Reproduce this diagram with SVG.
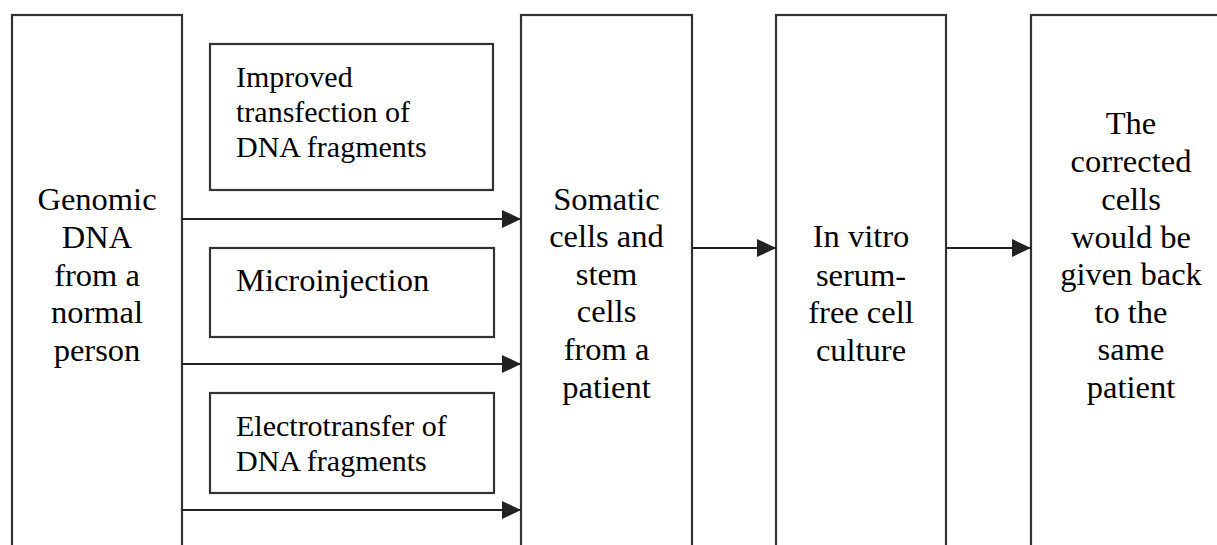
<svg xmlns="http://www.w3.org/2000/svg" width="1217" height="545" viewBox="0 0 1217 545">
<style>
.box{fill:#fff;stroke:#333;stroke-width:2.2}
.conn{stroke:#222;stroke-width:2.2;fill:none}
.t{font-family:"Liberation Serif","Times New Roman",serif;font-size:30px;fill:#000}
.p{font-size:32.5px}
.c{text-anchor:middle}
</style>
<defs>
<marker id="ah" markerUnits="userSpaceOnUse" markerWidth="20" markerHeight="20" refX="19" refY="9" orient="auto">
<path d="M0,0 L19,9 L0,18 Z" fill="#222"/>
</marker>
</defs>
<rect width="1217" height="545" fill="#fff"/>
<g id="genomic">
<rect class="box" x="12" y="15" width="170" height="560"/>
<text class="t p c" x="97"><tspan x="97" y="210">Genomic</tspan><tspan x="97" y="248">DNA</tspan><tspan x="97" y="286">from a</tspan><tspan x="97" y="323">normal</tspan><tspan x="97" y="361">person</tspan></text>
</g>
<g id="transfection">
<rect class="box" x="210" y="44" width="283" height="146"/>
<text class="t" x="236"><tspan x="236" y="87">Improved</tspan><tspan x="236" y="122">transfection of</tspan><tspan x="236" y="157">DNA fragments</tspan></text>
</g>
<g id="microinjection">
<rect class="box" x="210" y="248" width="284" height="89"/>
<text class="t p" x="236" y="291">Microinjection</text>
</g>
<g id="electrotransfer">
<rect class="box" x="210" y="393" width="284" height="100"/>
<text class="t" x="236"><tspan x="236" y="436">Electrotransfer of</tspan><tspan x="236" y="471">DNA fragments</tspan></text>
</g>
<g id="somatic">
<rect class="box" x="521" y="15" width="171" height="560"/>
<text class="t p c"><tspan x="606.5" y="210">Somatic</tspan><tspan x="606.5" y="247">cells and</tspan><tspan x="606.5" y="285">stem</tspan><tspan x="606.5" y="322">cells</tspan><tspan x="606.5" y="360">from a</tspan><tspan x="606.5" y="398">patient</tspan></text>
</g>
<g id="culture">
<rect class="box" x="776" y="15" width="170" height="560"/>
<text class="t p c"><tspan x="861" y="247">In vitro</tspan><tspan x="861" y="286">serum-</tspan><tspan x="861" y="323">free cell</tspan><tspan x="861" y="361">culture</tspan></text>
</g>
<g id="return">
<rect class="box" x="1031" y="15" width="200" height="560"/>
<text class="t p c"><tspan x="1131" y="134">The</tspan><tspan x="1131" y="172">corrected</tspan><tspan x="1131" y="210">cells</tspan><tspan x="1131" y="248">would be</tspan><tspan x="1131" y="285">given back</tspan><tspan x="1131" y="323">to the</tspan><tspan x="1131" y="360">same</tspan><tspan x="1131" y="398">patient</tspan></text>
</g>
<g id="connectors">
<line class="conn" x1="182" y1="219" x2="521" y2="219" marker-end="url(#ah)"/>
<line class="conn" x1="182" y1="364" x2="521" y2="364" marker-end="url(#ah)"/>
<line class="conn" x1="182" y1="510" x2="521" y2="510" marker-end="url(#ah)"/>
<line class="conn" x1="692" y1="248" x2="776" y2="248" marker-end="url(#ah)"/>
<line class="conn" x1="946" y1="248" x2="1031" y2="248" marker-end="url(#ah)"/>
</g>
</svg>
